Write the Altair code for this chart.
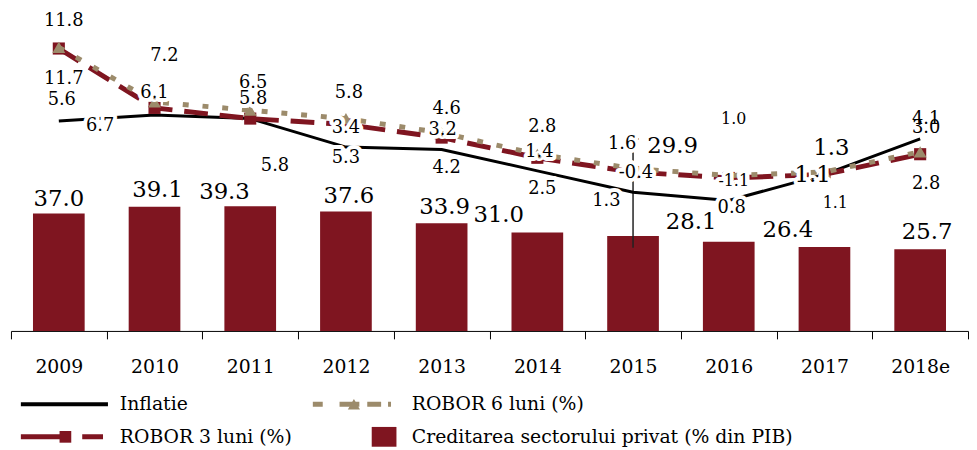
import altair as alt
import pandas as pd

# ---------------- data ----------------
YEARS = ["2009", "2010", "2011", "2012", "2013", "2014", "2015", "2016", "2017", "2018e"]
INFLATIE = [5.6, 6.1, 5.8, 3.4, 3.2, 1.4, -0.4, -1.1, 1.1, 4.1]
ROBOR_3 = [11.7, 6.7, 5.8, 5.3, 4.2, 2.5, 1.3, 0.8, 1.1, 2.8]
ROBOR_6 = [11.8, 7.2, 6.5, 5.8, 4.6, 2.8, 1.6, 1.0, 1.3, 3.0]
CREDIT = [37.0, 39.1, 39.3, 37.6, 33.9, 31.0, 29.9, 28.1, 26.4, 25.7]
WHISKER_YEAR = ["2015"]
WHISKER_LOW = [26.2]
WHISKER_HIGH = [60.5]

LEGEND_NAMES = ["Inflatie", "ROBOR 6 luni (%)", "ROBOR 3 luni (%)",
                "Creditarea sectorului privat (% din PIB)"]

# ---------------- styling / layout ----------------
FONT = "DejaVu Serif"
RED = "#7f1520"
TAN = "#9c8b6b"
W, H = 967, 324
BAR_DOMAIN = [0, 101]
LINE_DOMAIN = [-12.08, 14.92]
BAND_PX = W / len(YEARS)
BAR_PX = H / (BAR_DOMAIN[1] - BAR_DOMAIN[0])
LINE_PX = H / (LINE_DOMAIN[1] - LINE_DOMAIN[0])

# label nudges (px) from each point / bar top, and font sizes
OFF_R6 = [(5, -27), (10, -46), (3, -27), (3, -26), (5, -24), (5, -27), (-11, -25), (5, -57), (7, -24), (6, -24)]
FS_R6 = [18, 18, 18, 18, 18, 18, 18, 16, 23, 18]
OFF_INF = [(3, -21), (0, -22), (3, -20), (0, -19), (1, -20), (2, -19), (3, -19), (5, -20), (-12, 1), (6, -20)]
FS_INF = [18, 18, 18, 18, 18, 18, 18, 16, 23, 18]
OFF_R3 = [(5, 31), (-55, 18), (25, 48), (0, 34), (5, 31), (5, 32), (-27, 29), (3, 30), (11, 29), (6, 30)]
FS_R3 = [18, 18, 18, 18, 18, 18, 18, 18, 16, 18]
OFF_BAR = [(0, -15), (3, -17), (-26, -14), (3, -16), (3, -16), (-39, -18), (40, -91), (-38, -20), (-37, -17), (7, -17)]
FS_BAR = [23] * 10

X = alt.X("year:N", sort=YEARS,
          scale=alt.Scale(domain=YEARS, paddingInner=0, paddingOuter=0),
          axis=alt.Axis(title=None, labelAngle=0, tickBand="extent", grid=False))
bar_scale = alt.Scale(domain=BAR_DOMAIN, nice=False, zero=False)
line_scale = alt.Scale(domain=LINE_DOMAIN, nice=False, zero=False)
Y_BAR = alt.Y("v:Q", scale=bar_scale, axis=None)
Y_LINE = alt.Y("v:Q", scale=line_scale, axis=None)


def series_df(values):
    return pd.DataFrame({"year": YEARS, "v": values})


def label_df(values, offs, sizes):
    return pd.DataFrame({
        "year": YEARS, "v": values,
        "txt": [f"{v:.1f}" for v in values],
        "dx": [o[0] for o in offs], "dy": [o[1] for o in offs], "fs": sizes,
    })


def text_layer(df, scale, px, halo):
    kw = dict(font=FONT, align="center", baseline="middle")
    if halo:
        kw.update(fill="white", stroke="white", strokeWidth=8, strokeJoin="round")
    else:
        kw.update(fill="black")
    # with an offset channel the text is anchored at the band start
    return alt.Chart(df).transform_calculate(
        xo=f"datum.dx + {BAND_PX / 2}",
        yl=f"datum.v - datum.dy / {px}",
    ).mark_text(**kw).encode(
        x=X, xOffset=alt.XOffset("xo:Q", scale=None),
        y=alt.Y("yl:Q", scale=scale, axis=None),
        text="txt:N",
        size=alt.Size("fs:Q", scale=None),
    )


bars = alt.Chart(series_df(CREDIT)).mark_bar(
    color=RED, width=alt.RelativeBandSize(0.54)).encode(x=X, y=Y_BAR)

wh_df = pd.DataFrame({"year": WHISKER_YEAR, "lo": WHISKER_LOW, "hi": WHISKER_HIGH})
whisker = alt.Chart(wh_df).mark_rule(color="#222222", strokeWidth=1.5).encode(
    x=X, y=alt.Y("lo:Q", scale=bar_scale, axis=None), y2="hi:Q")
whisker_cap = alt.Chart(wh_df).mark_tick(
    orient="horizontal", color="#222222", size=12, thickness=1.5).encode(
    x=X, y=alt.Y("hi:Q", scale=bar_scale, axis=None))

infl_line = alt.Chart(series_df(INFLATIE)).mark_line(
    color="black", strokeWidth=3).encode(x=X, y=Y_LINE)
r3_line = alt.Chart(series_df(ROBOR_3)).mark_line(
    color=RED, strokeWidth=5, strokeDash=[24, 12]).encode(x=X, y=Y_LINE)
r3_pts = alt.Chart(series_df(ROBOR_3)).mark_point(
    shape="square", filled=True, size=150, color=RED, opacity=1).encode(x=X, y=Y_LINE)
r6_line = alt.Chart(series_df(ROBOR_6)).mark_line(
    color=TAN, strokeWidth=5, strokeDash=[6, 14]).encode(x=X, y=Y_LINE)
r6_pts = alt.Chart(series_df(ROBOR_6)).mark_point(
    shape="triangle-up", filled=True, size=170, color=TAN, opacity=1).encode(x=X, y=Y_LINE)

line_lbl = pd.concat([
    label_df(ROBOR_6, OFF_R6, FS_R6),
    label_df(INFLATIE, OFF_INF, FS_INF),
    label_df(ROBOR_3, OFF_R3, FS_R3),
], ignore_index=True)
bar_lbl = label_df(CREDIT, OFF_BAR, FS_BAR)

main = alt.layer(
    bars, whisker, whisker_cap, infl_line, r3_line, r3_pts, r6_line, r6_pts,
    text_layer(line_lbl, line_scale, LINE_PX, True),
    text_layer(bar_lbl, bar_scale, BAR_PX, True),
    text_layer(line_lbl, line_scale, LINE_PX, False),
    text_layer(bar_lbl, bar_scale, BAR_PX, False),
).resolve_scale(y="independent").properties(width=W, height=H)

# ---------------- legend panel ----------------
LH = 70
LX = alt.Scale(domain=[0, W], nice=False, zero=False)
LY = alt.Scale(domain=[LH, 0], nice=False, zero=False)
ROW1, ROW2 = 28, 61

leg_lines = pd.DataFrame({
    "name": [LEGEND_NAMES[0], LEGEND_NAMES[1], LEGEND_NAMES[2]],
    "x0": [10, 305, 10], "x1": [98, 388, 98], "y": [ROW1, ROW1, ROW2],
})
leg_text = pd.DataFrame({
    "name": LEGEND_NAMES, "x": [110, 405, 110, 405], "y": [ROW1, ROW1, ROW2, ROW2],
})


def leg_rule(name, color, width, dash=None):
    kw = dict(color=color, strokeWidth=width)
    if dash:
        kw["strokeDash"] = dash
    return alt.Chart(leg_lines).transform_filter(
        alt.datum.name == name).mark_rule(**kw).encode(
        x=alt.X("x0:Q", scale=LX, axis=None), x2="x1:Q",
        y=alt.Y("y:Q", scale=LY, axis=None))


r6_sym = alt.Chart(leg_lines[leg_lines.name == LEGEND_NAMES[1]]).transform_calculate(
    xm="(datum.x0 + datum.x1) / 2").mark_point(
    shape="triangle-up", filled=True, size=150, color=TAN, opacity=1).encode(
    x=alt.X("xm:Q", scale=LX, axis=None), y=alt.Y("y:Q", scale=LY, axis=None))
r3_sym = alt.Chart(leg_lines[leg_lines.name == LEGEND_NAMES[2]]).transform_calculate(
    xm="datum.x0 + 45").mark_point(
    shape="square", filled=True, size=140, color=RED, opacity=1).encode(
    x=alt.X("xm:Q", scale=LX, axis=None), y=alt.Y("y:Q", scale=LY, axis=None))
credit_sym = alt.Chart(leg_text[leg_text.name == LEGEND_NAMES[3]]).transform_calculate(
    xm="datum.x - 28").mark_point(
    shape="M-1.25,-1H1.25V1H-1.25Z", filled=True, size=400, color=RED, opacity=1).encode(
    x=alt.X("xm:Q", scale=LX, axis=None), y=alt.Y("y:Q", scale=LY, axis=None))

leg_txt = alt.Chart(leg_text).mark_text(
    font=FONT, fontSize=19, align="left", baseline="middle", color="black").encode(
    x=alt.X("x:Q", scale=LX, axis=None), y=alt.Y("y:Q", scale=LY, axis=None), text="name:N")

legend = alt.layer(
    leg_rule(LEGEND_NAMES[0], "black", 4),
    leg_rule(LEGEND_NAMES[1], TAN, 5, [10, 17, 20, 8, 14, 7, 3, 60]),
    leg_rule(LEGEND_NAMES[2], RED, 5, [45, 17, 21, 100]),
    r6_sym, r3_sym, credit_sym, leg_txt,
).properties(width=W, height=LH)

chart = alt.vconcat(main, legend, spacing=0).resolve_scale(
    x="independent", y="independent").properties(
    padding={"left": 2, "top": 0, "right": 0, "bottom": 0}
).configure_view(stroke=None).configure_axis(
    labelFont=FONT, labelFontSize=19, labelColor="black",
    domainColor="black", domainWidth=1, tickColor="black", tickWidth=1,
    tickSize=8, labelPadding=19,
)

chart.save("out.html", embed_options={"renderer": "svg", "actions": False})
